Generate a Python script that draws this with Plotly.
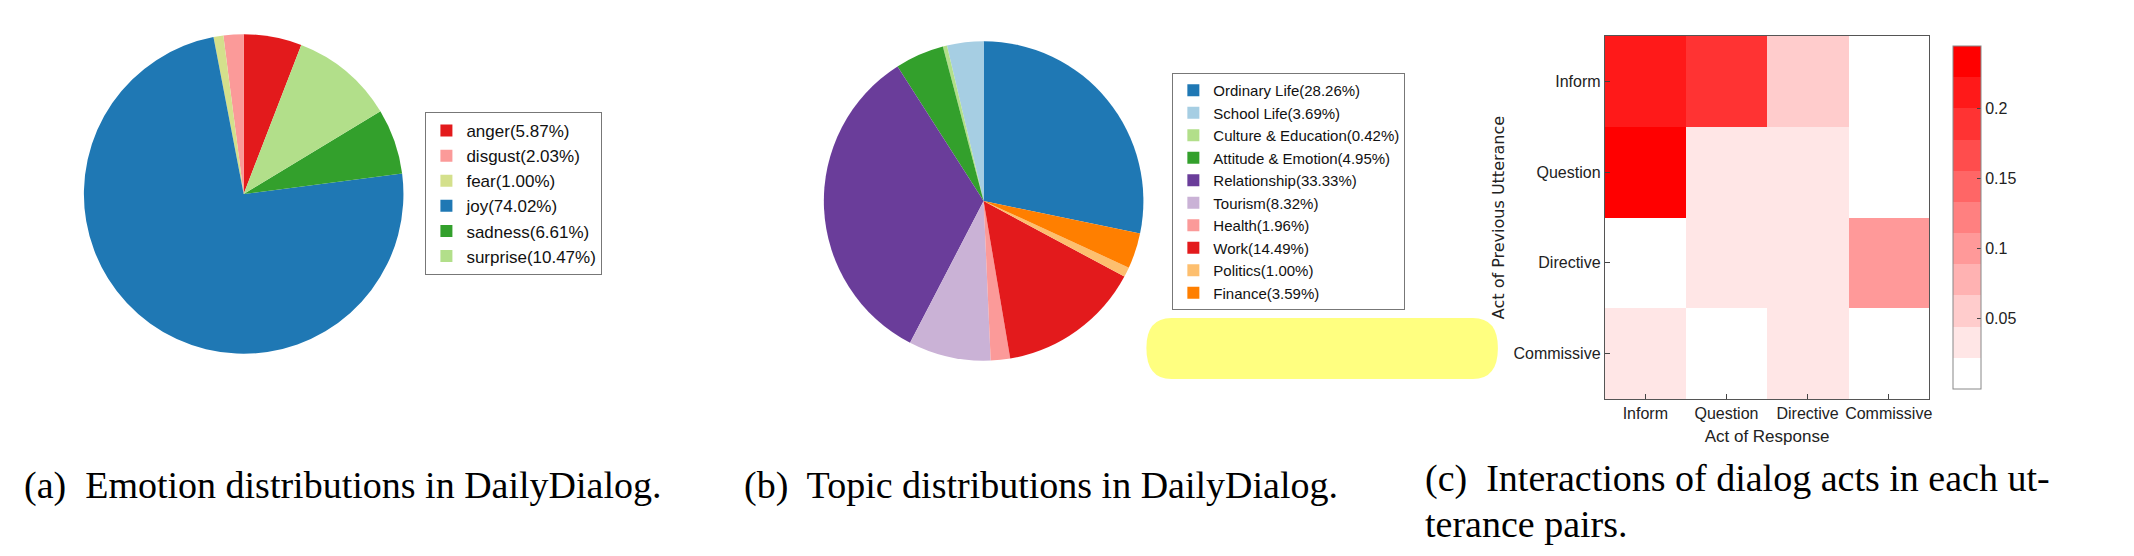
import plotly.graph_objects as go

emo_labels = ["anger(5.87%)", "disgust(2.03%)", "fear(1.00%)", "joy(74.02%)", "sadness(6.61%)", "surprise(10.47%)"]
emo_values = [5.87, 2.03, 1.00, 74.02, 6.61, 10.47]
emo_colors = ["#e31a1c", "#fb9a99", "#d4e08c", "#1f78b4", "#33a02c", "#b2df8a"]

topic_labels = ["Ordinary Life(28.26%)", "School Life(3.69%)", "Culture & Education(0.42%)",
                "Attitude & Emotion(4.95%)", "Relationship(33.33%)", "Tourism(8.32%)",
                "Health(1.96%)", "Work(14.49%)", "Politics(1.00%)", "Finance(3.59%)"]
topic_values = [28.26, 3.69, 0.42, 4.95, 33.33, 8.32, 1.96, 14.49, 1.00, 3.59]
topic_colors = ["#1f78b4", "#a6cee3", "#b2df8a", "#33a02c", "#6a3d9a", "#cab2d6",
                "#fb9a99", "#e31a1c", "#fdbf6f", "#ff7f00"]

acts = ["Inform", "Question", "Directive", "Commissive"]
# rows: previous utterance act, cols: response act
act_matrix = [
    [0.200, 0.178, 0.050, 0.000],
    [0.240, 0.030, 0.030, 0.000],
    [0.000, 0.030, 0.030, 0.100],
    [0.030, 0.000, 0.030, 0.000],
]

W, H = 2134, 556
def px(x): return x / W
def py(y): return 1 - y / H

fig = go.Figure()
fig.add_trace(go.Pie(labels=emo_labels, values=emo_values, sort=False, direction="counterclockwise",
                     rotation=0, marker=dict(colors=emo_colors), textinfo="none", hoverinfo="label",
                     domain=dict(x=[px(76), px(396)], y=[py(346), py(26)]), legend="legend"))
fig.add_trace(go.Pie(labels=topic_labels, values=topic_values, sort=False, direction="counterclockwise",
                     rotation=0, marker=dict(colors=topic_colors), textinfo="none", hoverinfo="label",
                     domain=dict(x=[px(817), px(1137)], y=[py(354), py(32)]), legend="legend2"))

nb = 11
zmax = 0.2444
cs = []
for k in range(nb):
    f = k / (nb - 1)
    g = int(round(255 * (1 - f)))
    col = f"rgb(255,{g},{g})"
    cs.append([k / nb, col])
    cs.append([(k + 1) / nb, col])

fig.add_trace(go.Heatmap(z=act_matrix, x=acts, y=acts, colorscale=cs, zmin=0, zmax=zmax,
                         xgap=0, ygap=0,
                         colorbar=dict(x=px(1938), xanchor="left", y=py(391), yanchor="bottom",
                                       len=(391 - 28) / H, lenmode="fraction", thickness=28,
                                       thicknessmode="pixels", outlinewidth=1, outlinecolor="#888",
                                       tickvals=[0.05, 0.1, 0.15, 0.2], ticks="inside", ticklen=4,
                                       tickfont=dict(family="Liberation Sans Narrow, Liberation Sans", size=16, color="#222"))))

fig.update_layout(
    width=W, height=H, margin=dict(l=0, r=0, t=0, b=0),
    paper_bgcolor="white", plot_bgcolor="white",
    legend=dict(x=px(418), y=py(104), xanchor="left", yanchor="top", bordercolor="#777", borderwidth=1,
                font=dict(family="Liberation Sans Narrow, Liberation Sans", size=17, color="#111"), tracegroupgap=0),
    legend2=dict(x=px(1166), y=py(65), xanchor="left", yanchor="top", bordercolor="#777", borderwidth=1,
                 font=dict(family="Liberation Sans Narrow, Liberation Sans", size=15, color="#111"), tracegroupgap=0),
    xaxis=dict(domain=[px(1599), px(1924)], anchor="y", showline=True, linecolor="#555", mirror=True,
               ticks="inside", tickfont=dict(family="Liberation Sans Narrow, Liberation Sans", size=16, color="#222"),
               title=dict(text="Act of Response", font=dict(family="Liberation Sans Narrow, Liberation Sans", size=17, color="#222"), standoff=8)),
    yaxis=dict(domain=[py(391), py(28)], anchor="x", autorange="reversed", showline=True, linecolor="#555", mirror=True,
               ticks="inside", tickfont=dict(family="Liberation Sans Narrow, Liberation Sans", size=16, color="#222"),
               title=dict(text="Act of Previous Utterance", font=dict(family="DejaVu Sans", size=16, color="#222"), standoff=4)),
)

fig.add_shape(type="path", xref="paper", yref="paper", layer="below",
              path=f"M {px(1165)},{py(310)} L {px(1467)},{py(310)} Q {px(1492)},{py(310)} {px(1492)},{py(340)} "
                   f"Q {px(1492)},{py(371)} {px(1467)},{py(371)} L {px(1165)},{py(371)} "
                   f"Q {px(1140)},{py(371)} {px(1140)},{py(340)} Q {px(1140)},{py(310)} {px(1165)},{py(310)} Z",
              fillcolor="#ffff80", line=dict(width=0))

cap_font = dict(family="Liberation Serif, Times New Roman", size=38, color="black")
for x, y, t in [(14, 477, "(a)  Emotion distributions in DailyDialog."),
                (735, 477, "(b)  Topic distributions in DailyDialog."),
                (1417, 470, "(c)  Interactions of dialog acts in each ut-"),
                (1417, 516, "terance pairs.")]:
    fig.add_annotation(x=px(x), y=py(y), xref="paper", yref="paper", xanchor="left", yanchor="middle",
                       text=t, showarrow=False, font=cap_font)

fig.write_html("out.html")
